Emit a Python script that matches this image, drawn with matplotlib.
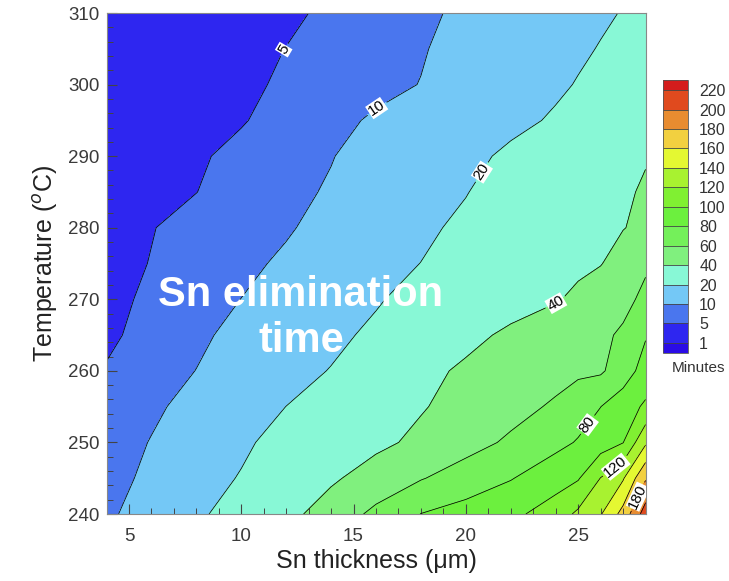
import numpy as np
import matplotlib
matplotlib.use("Agg")
import matplotlib.pyplot as plt
from matplotlib.colors import ListedColormap, BoundaryNorm
from matplotlib.ticker import MultipleLocator

plt.rcParams['font.family'] = ['Liberation Sans', 'DejaVu Sans']

# grid: Sn thickness (um) x temperature (C)
thickness = [4, 6, 8, 10, 12, 14, 16, 18, 20, 22, 24, 25, 26, 27, 28]
temperature = [240, 245, 250, 255, 260, 265, 270, 275, 280, 285, 290, 295, 300, 305, 310]

# elimination time in minutes, one row per temperature
t240 = [8.8, 13.26, 17.91, 25.29, 34.9, 48.03, 64.6, 80.3, 87.55, 95.1, 109.7, 123.7, 138.5, 166.7, 210]
t245 = [7.2, 11.72, 16.02, 20.63, 29.05, 37.47, 47.78, 58.89, 69.0, 79.0, 91.8, 98.4, 120.5, 138.2, 178]
t250 = [6.8, 10.3, 14.3, 18.3, 23.62, 29.92, 36.22, 43.72, 53.02, 62.99, 74.93, 81.4, 90.7, 99.5, 137]
t255 = [6.0, 8.81, 12.23, 16.12, 20.05, 26.25, 32.5, 38.75, 46.04, 53.58, 62.6, 71.3, 79.8, 90.7, 103]
t260 = [5.3, 7.68, 10.08, 13.45, 16.81, 20.38, 28.08, 35.77, 42.5, 48.06, 53.61, 56.4, 57.5, 70, 88]
t265 = [4.2, 6.46, 8.90, 11.68, 14.73, 17.79, 21.91, 28.87, 35.83, 42.88, 50.09, 53.7, 57.3, 62.0, 78.5]
t270 = [4.0, 5.65, 7.83, 10.05, 13.03, 16.06, 19.09, 23.54, 28.61, 33.67, 38.73, 43.2, 49.7, 56.1, 63.2]
t275 = [3.6, 5.14, 6.94, 8.74, 10.91, 13.94, 16.97, 20.1, 24.82, 29.64, 34.46, 36.87, 39.28, 47.4, 58.0]
t280 = [3.2, 4.84, 6.37, 7.90, 9.43, 11.94, 15.04, 18.14, 21.99, 26.97, 31.95, 34.45, 36.94, 39.43, 43.9]
t285 = [2.8, 3.87, 4.95, 6.73, 8.55, 10.60, 13.61, 16.62, 19.62, 24.70, 30.07, 32.75, 35.44, 38.12, 41.5]
t290 = [2.5, 3.51, 4.51, 5.98, 7.87, 9.76, 12.41, 15.17, 17.93, 21.47, 27.35, 30.29, 33.24, 36.18, 39.12]
t295 = [2.2, 3.04, 3.88, 4.73, 6.42, 8.53, 10.73, 13.17, 15.61, 18.05, 20.88, 23.08, 25.28, 27.48, 29.68]
t300 = [1.9, 2.73, 3.56, 4.40, 5.43, 6.98, 8.53, 10.14, 13.04, 15.94, 18.84, 20.4, 22.4, 24.4, 26.4]
t305 = [1.7, 2.53, 3.36, 4.19, 5.04, 6.55, 8.07, 9.58, 12.0, 14.76, 17.52, 18.90, 20.36, 22.16, 23.96]
t310 = [1.5, 2.24, 2.99, 3.73, 4.48, 5.52, 7.24, 8.97, 11.05, 13.68, 16.32, 17.63, 18.95, 20.32, 21.9]

levels = [1, 5, 10, 20, 40, 60, 80, 100, 120, 140, 160, 180, 200, 220]
band_colors = ['#2e26f0', '#4a76ee', '#74c8f6', '#88f8d6', '#80f07e', '#74f05a',
               '#6cf03e', '#80f032', '#a8f230', '#e4f832', '#f2d040', '#e88c30', '#e04a1e']
under_color = '#2a0ce6'
over_color = '#d41c1c'

# contour labels (thickness, temperature)
label_levels = [5, 10, 20, 40, 80, 120, 180]
label_pos = [(11.95, 304.8), (15.83, 297.8), (20.55, 288.1), (24.2, 268.5),
             (25.54, 252.2), (26.56, 247.1), (27.68, 242.4)]
plain_levels = [lv for lv in levels if lv not in label_levels]

Z = np.array([t240, t245, t250, t255, t260, t265, t270, t275, t280,
              t285, t290, t295, t300, t305, t310])
X, Y = np.meshgrid(thickness, temperature)

cmap = ListedColormap(band_colors)
cmap.set_under(under_color)
cmap.set_over(over_color)
norm = BoundaryNorm(levels, cmap.N)

fig = plt.figure(figsize=(7.29, 5.81), dpi=100)
ax = fig.add_axes([0.1461, 0.1153, 0.7394, 0.8623])

cs = ax.contourf(X, Y, Z, levels=levels, cmap=cmap, norm=norm, extend='both')
ax.contour(X, Y, Z, levels=plain_levels, colors='k', linewidths=0.55)
cl = ax.contour(X, Y, Z, levels=label_levels, colors='k', linewidths=0.55)
lbls = ax.clabel(cl, manual=label_pos, inline=True, inline_spacing=3,
                 fontsize=11, fmt='%d', colors='k')
for t in lbls:
    t.set_bbox(dict(facecolor='white', edgecolor='none', pad=0.3))

ax.set_xlim(4, 28)
ax.set_ylim(240, 310)
ax.xaxis.set_major_locator(MultipleLocator(5))
ax.xaxis.set_minor_locator(MultipleLocator(1))
ax.yaxis.set_major_locator(MultipleLocator(10))
ax.yaxis.set_minor_locator(MultipleLocator(2))
ax.tick_params(which='both', direction='in', top=False, right=False,
               colors='#444444', labelcolor='#3a3a3a', labelsize=13.5)
ax.tick_params(which='major', length=7, width=0.8)
ax.tick_params(which='minor', length=4, width=0.7)
ax.tick_params(axis='x', which='major', pad=10)
ax.tick_params(axis='y', which='major', pad=5)
for s in ax.spines.values():
    s.set_color('#888888')
    s.set_linewidth(0.8)

ax.set_xlabel('Sn thickness (\u03bcm)', fontsize=18, color='#222222', labelpad=3)
ax.set_ylabel('Temperature ($^o$C)', fontsize=18, color='#222222', labelpad=6)

ax.text(12.66, 267.4, 'Sn elimination\ntime', color='white', fontsize=30,
        fontweight='bold', ha='center', va='center', linespacing=1.18)

cax = fig.add_axes([0.9095, 0.3924, 0.0343, 0.47])
cb = fig.colorbar(cs, cax=cax, ticks=levels, spacing='uniform', extendrect=True,
                  extendfrac=0.04, drawedges=True)
cb.ax.tick_params(length=0, labelsize=11.5, labelcolor='#333333', pad=8)
cb.outline.set_edgecolor('#555555')
cb.outline.set_linewidth(0.6)
cb.dividers.set_color('#444444')
cb.dividers.set_linewidth(0.6)
fig.text(0.958, 0.367, 'Minutes', fontsize=11, color='#333333', ha='center', va='center')

fig.savefig('out.png', dpi=100)
